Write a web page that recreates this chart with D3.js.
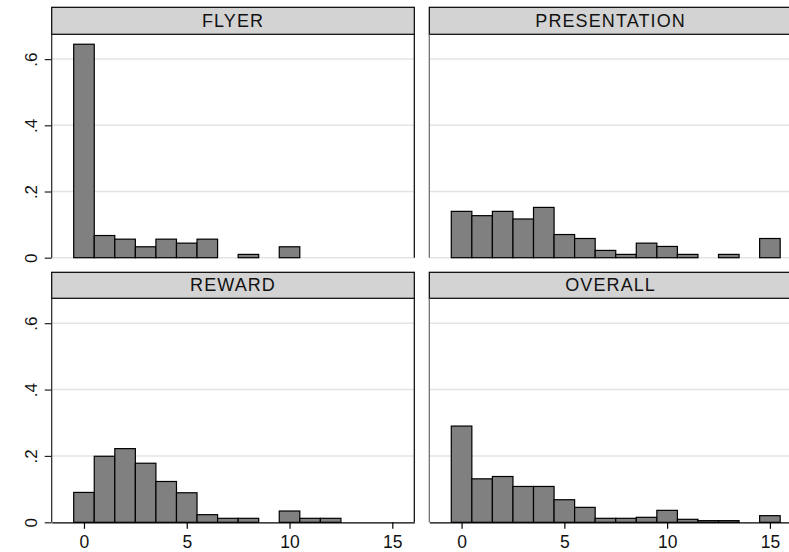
<!DOCTYPE html>
<html>
<head>
<meta charset="utf-8">
<script src="https://cdn.jsdelivr.net/npm/d3@7"></script>
<style>
  body { margin: 0; background: #fff; }
  svg { display: block; overflow: hidden; font-family: "Liberation Sans", Arial, sans-serif; }
</style>
</head>
<body>
<div id="chart"></div>
<script>
var svgWidth = 789;
var svgHeight = 552;

// histogram bins 0..15, density per bin
var bins = d3.range(0, 16);
var flyer        = [0.645, 0.067, 0.056, 0.033, 0.056, 0.044, 0.056, 0, 0.010, 0, 0.033, 0, 0, 0, 0, 0];
var presentation = [0.140, 0.127, 0.140, 0.117, 0.152, 0.070, 0.058, 0.022, 0.010, 0.044, 0.034, 0.010, 0, 0.010, 0, 0.058];
var reward       = [0.090, 0.199, 0.222, 0.178, 0.123, 0.089, 0.023, 0.012, 0.012, 0, 0.034, 0.012, 0.012, 0, 0, 0];
var overall      = [0.290, 0.131, 0.138, 0.108, 0.108, 0.068, 0.045, 0.012, 0.012, 0.015, 0.036, 0.009, 0.005, 0.005, 0, 0.020];

var panelNames = ["FLYER", "PRESENTATION", "REWARD", "OVERALL"];
var panelData = [flyer, presentation, reward, overall];
var yTicks = [0, 0.2, 0.4, 0.6];
var xTicks = [0, 5, 10, 15];

// layout
var colLeft = [51.7, 429.3];
var rowTop = [7.3, 272.3];
var headH = [27, 26];
var plotBottom = [257.7, 522.3];
var panelW = 362.6;

var svg = d3.select("#chart")
    .append("svg")
    .attr("width", svgWidth)
    .attr("height", svgHeight);

var yFmt = d => d === 0 ? "0" : d3.format(".1f")(d).replace(/^0/, "");

panelNames.forEach((name, i) => {
    var col = i % 2, row = Math.floor(i / 2);
    var x0 = colLeft[col];
    var top = rowTop[row];
    var headBottom = top + headH[row];
    var bottom = plotBottom[row];

    var x = d3.scaleLinear().domain([-1.57, 16.07]).range([x0, x0 + panelW]);
    var y = d3.scaleLinear().domain([0, 0.675]).range([bottom, headBottom]);

    var g = svg.append("g");

    // gridlines
    g.selectAll(".grid")
        .data(row === 0 ? yTicks : yTicks.slice(1))
        .enter()
        .append("line")
        .attr("x1", x0)
        .attr("x2", x0 + panelW)
        .attr("y1", d => y(d))
        .attr("y2", d => y(d))
        .attr("stroke", "#e4e4e4")
        .attr("stroke-width", 1.5);

    // bars
    var vals = panelData[i];
    g.selectAll(".bar")
        .data(bins.filter(b => vals[b] > 0))
        .enter()
        .append("rect")
        .attr("x", b => x(b - 0.5))
        .attr("width", b => x(b + 0.5) - x(b - 0.5))
        .attr("y", b => y(vals[b]))
        .attr("height", b => y(0) - y(vals[b]))
        .attr("fill", "#808080")
        .attr("stroke", "#000")
        .attr("stroke-width", 1.2);

    // header strip
    g.append("rect")
        .attr("x", x0)
        .attr("y", top)
        .attr("width", panelW)
        .attr("height", headH[row])
        .attr("fill", "#d3d3d3")
        .attr("stroke", "#000")
        .attr("stroke-width", 1.2);

    g.append("text")
        .attr("x", x0 + panelW / 2)
        .attr("y", top + headH[row] - 7.5)
        .attr("text-anchor", "middle")
        .attr("font-size", 18)
        .attr("letter-spacing", 1.1)
        .attr("fill", "#111")
        .text(name);

    // right border
    g.append("line")
        .attr("x1", x0 + panelW).attr("x2", x0 + panelW)
        .attr("y1", headBottom).attr("y2", bottom)
        .attr("stroke", "#000").attr("stroke-width", 1.2);

    // left axis line
    g.append("line")
        .attr("x1", x0).attr("x2", x0)
        .attr("y1", headBottom).attr("y2", bottom)
        .attr("stroke", col === 0 ? "#222" : "#666").attr("stroke-width", 1.2);

    // y axis with rotated labels on left column
    if (col === 0) {
        var yAxis = g.append("g")
            .attr("transform", `translate(${x0},0)`)
            .call(d3.axisLeft(y).tickValues(yTicks).tickFormat(yFmt).tickSize(7).tickPadding(0));
        yAxis.select(".domain").remove();
        yAxis.selectAll(".tick line").attr("stroke", "#222").attr("stroke-width", 1.2);
        yAxis.selectAll(".tick text")
            .attr("transform", "rotate(-90)")
            .attr("x", 0)
            .attr("y", -14.5)
            .attr("dy", 0)
            .attr("text-anchor", "middle")
            .attr("font-size", 17)
            .attr("font-family", "Liberation Sans, Arial, sans-serif")
            .attr("fill", "#111");
    }

    // x axis on bottom row
    if (row === 1) {
        var xAxis = g.append("g")
            .attr("transform", `translate(0,${bottom})`)
            .call(d3.axisBottom(x).tickValues(xTicks).tickSize(6.5).tickPadding(7).tickSizeOuter(0));
        xAxis.select(".domain").attr("stroke", "#000").attr("stroke-width", 1.2);
        xAxis.selectAll(".tick line").attr("stroke", "#000").attr("stroke-width", 1.2);
        xAxis.selectAll(".tick text")
            .attr("font-size", 17.5)
            .attr("font-family", "Liberation Sans, Arial, sans-serif")
            .attr("fill", "#111");
    }
});
</script>
</body>
</html>
